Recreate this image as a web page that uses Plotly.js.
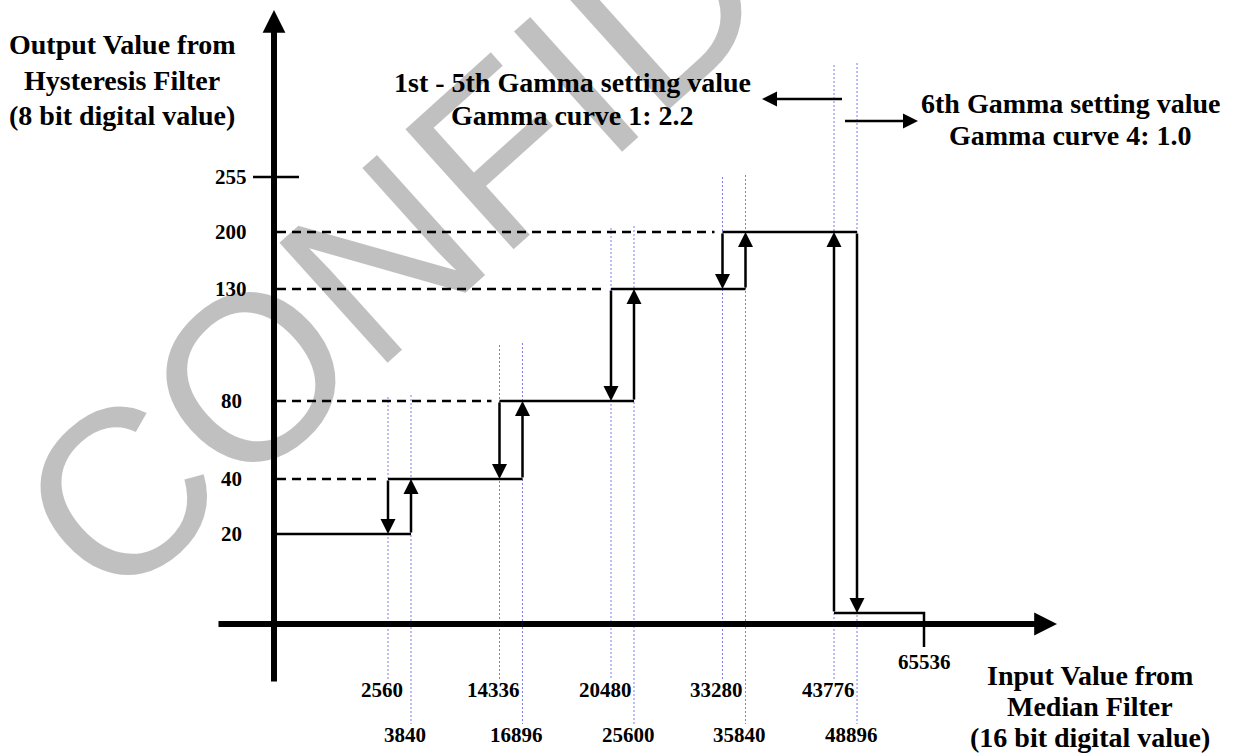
<!DOCTYPE html>
<html>
<head>
<meta charset="utf-8">
<script src="https://cdn.plot.ly/plotly-3.0.1.min.js"></script>
<style>
html,body{margin:0;padding:0;background:#ffffff;}
#chart{width:1235px;height:753px;}
</style>
</head>
<body>
<div id="chart"></div>
<script>
// ---------------- data ----------------
const outputLevels = [0, 20, 40, 80, 130, 200];     // output steps (8 bit)
const outputMax = 255;
const downThresholds = [2560, 14336, 20480, 33280, 43776];  // input thresholds (16 bit)
const upThresholds   = [3840, 16896, 25600, 35840, 48896];
const inputMax = 65536;
const yTitleLines = ['Output Value from', 'Hysteresis Filter', '(8 bit digital value)'];
const xTitleLines = ['Input Value from', 'Median Filter', '(16 bit digital value)'];
const noteLeftLines = ['1st - 5th Gamma setting value', 'Gamma curve 1: 2.2'];
const noteRightLines = ['6th Gamma setting value', 'Gamma curve 4: 1.0'];
const watermarkText = 'CONFIDENTIAL';

// ---------------- schematic layout (diagram is not drawn to scale) ----------------
const W = 1235, H = 753;
const ORIGIN_X = 274, AXIS_Y = 624;
const X_AXIS_START = 217, X_AXIS_TIP = 1057;
const Y_AXIS_TIP = 10, Y_AXIS_BOTTOM = 683;
const PAIR_X0 = 388, PAIR_STEP = 111.5, PAIR_GAP = 23, END_X = 924;
const LEVEL_Y = {0: 613, 20: 534, 40: 479, 80: 401, 130: 289, 200: 232, 255: 177};
const GUIDE_TOP = [397, 345, 228, 177, 65];
const GUIDE_BOTTOM_DOWN = 680, GUIDE_BOTTOM_UP = 724;
const LABEL_ROW1_Y = 690, LABEL_ROW2_Y = 735, LABEL_DX = -6;
const Y_LABEL_X = 231;
const TITLE_SIZE = 28, TICK_SIZE = 21;

const SERIF = 'Liberation Serif, Times New Roman, serif';
const BLACK = '#000000';
const GUIDE_COLOR = '#7c7cf0';

function xOf(v) {
  if (v === inputMax) return END_X;
  let k = downThresholds.indexOf(v);
  if (k >= 0) return PAIR_X0 + k * PAIR_STEP;
  k = upThresholds.indexOf(v);
  return PAIR_X0 + k * PAIR_STEP + PAIR_GAP;
}
function yOf(level) { return LEVEL_Y[level]; }
function nextLevelIndex(j) { return j < outputLevels.length - 1 ? j + 1 : 0; }

const traces = [];

// dotted guide lines at every threshold
(function () {
  const gx = [], gy = [];
  downThresholds.forEach((v, k) => {
    gx.push(xOf(v), xOf(v), null); gy.push(GUIDE_TOP[k], GUIDE_BOTTOM_DOWN, null);
  });
  upThresholds.forEach((v, k) => {
    gx.push(xOf(v), xOf(v), null); gy.push(GUIDE_TOP[k] - 2, GUIDE_BOTTOM_UP, null);
  });
  traces.push({x: gx, y: gy, mode: 'lines', line: {color: GUIDE_COLOR, width: 1, dash: '2px,2px'}, hoverinfo: 'skip'});
})();

// dashed lines from the axis to each level
(function () {
  const dx = [], dy = [];
  for (let j = 2; j < outputLevels.length; j++) {
    const y = yOf(outputLevels[j]);
    dx.push(ORIGIN_X + 3, xOf(downThresholds[j - 2]) - 8, null);
    dy.push(y, y, null);
  }
  traces.push({x: dx, y: dy, mode: 'lines', line: {color: BLACK, width: 2.5, dash: '9px,6px'}, hoverinfo: 'skip'});
})();

// solid horizontal steps
(function () {
  const sx = [], sy = [];
  for (let j = 1; j < outputLevels.length; j++) {
    const y = yOf(outputLevels[j]);
    const x0 = j === 1 ? ORIGIN_X : xOf(downThresholds[j - 2]);
    const x1 = xOf(upThresholds[j - 1]);
    sx.push(x0, x1, null); sy.push(y, y, null);
  }
  // level 0 segment up to the end of the input range, with a tick below the axis
  const last = downThresholds.length - 1;
  sx.push(xOf(downThresholds[last]), xOf(inputMax), xOf(inputMax), null);
  sy.push(yOf(outputLevels[0]), yOf(outputLevels[0]), AXIS_Y + 23, null);
  // 255 tick on the y axis
  sx.push(ORIGIN_X - 21, ORIGIN_X + 25, null);
  sy.push(yOf(outputMax), yOf(outputMax), null);
  traces.push({x: sx, y: sy, mode: 'lines', line: {color: BLACK, width: 2.5}, hoverinfo: 'skip'});
})();

const annotations = [];

// watermark (semi-transparent so black lines stay black); paper coords so it may extend past the top
annotations.push({
  xref: 'paper', yref: 'paper', x: 697 / W, y: 1 + 26 / H, text: watermarkText, showarrow: false,
  textangle: -42, font: {family: 'Liberation Sans, Arial, sans-serif', size: 235, color: 'rgba(0,0,0,0.247)'},
  xanchor: 'center', yanchor: 'middle'
});

function arrow(x0, y0, x1, y1, width, size, head) {
  annotations.push({
    xref: 'x', yref: 'y', axref: 'x', ayref: 'y',
    x: x1, y: y1, ax: x0, ay: y0, text: '', showarrow: true,
    arrowhead: head === undefined ? 2 : head, arrowsize: size, arrowwidth: width, arrowcolor: BLACK,
    standoff: 0
  });
}

// axes
arrow(X_AXIS_START, AXIS_Y, X_AXIS_TIP, AXIS_Y, 6, 0.76);
arrow(ORIGIN_X, Y_AXIS_BOTTOM, ORIGIN_X, Y_AXIS_TIP, 6, 0.76);

// hysteresis arrows
for (let k = 0; k < upThresholds.length; k++) {
  const lo = k + 1, hi = nextLevelIndex(k + 1);
  arrow(xOf(upThresholds[k]), yOf(outputLevels[lo]), xOf(upThresholds[k]), yOf(outputLevels[hi]), 2.5, 1.2);
  arrow(xOf(downThresholds[k]), yOf(outputLevels[hi]), xOf(downThresholds[k]), yOf(outputLevels[lo]), 2.5, 1.2);
}

// gamma-region arrows
const lastK = upThresholds.length - 1;
const midX = (xOf(downThresholds[lastK]) + xOf(upThresholds[lastK])) / 2;
arrow(midX - 2, 99, 762, 99, 2.5, 1.2);
arrow(midX - 2, 121, 918, 121, 2.5, 1.2);

function label(text, x, y, size, anchor) {
  annotations.push({
    xref: 'x', yref: 'y', x: x, y: y, text: '<b>' + text + '</b>', showarrow: false,
    font: {family: SERIF, size: size, color: BLACK}, xanchor: anchor || 'center', yanchor: 'middle'
  });
}

// y tick labels
outputLevels.slice(1).concat([outputMax]).forEach(v => label(String(v), Y_LABEL_X, yOf(v), TICK_SIZE));
// x tick labels (staggered rows)
downThresholds.forEach(v => label(String(v), xOf(v) + LABEL_DX, LABEL_ROW1_Y, TICK_SIZE));
upThresholds.forEach(v => label(String(v), xOf(v) + LABEL_DX, LABEL_ROW2_Y, TICK_SIZE));
label(String(inputMax), xOf(inputMax), 662, TICK_SIZE);

// titles and notes
const yTitleY = [44, 80, 115];
yTitleLines.forEach((t, i) => label(t, 122, yTitleY[i], TITLE_SIZE));
const xTitleY = [675, 706, 737];
xTitleLines.forEach((t, i) => label(t, 1090, xTitleY[i], TITLE_SIZE));
const noteLeftY = [82, 115];
noteLeftLines.forEach((t, i) => label(t, 572, noteLeftY[i], TITLE_SIZE));
const noteRightY = [103, 135];
noteRightLines.forEach((t, i) => label(t, 1070, noteRightY[i], TITLE_SIZE));

const layout = {
  width: W, height: H,
  margin: {l: 0, r: 0, t: 0, b: 0, pad: 0},
  paper_bgcolor: '#ffffff', plot_bgcolor: '#ffffff',
  showlegend: false, hovermode: false,
  xaxis: {range: [0, W], visible: false, fixedrange: true},
  yaxis: {range: [H, 0], visible: false, fixedrange: true},
  annotations: annotations
};

Plotly.newPlot('chart', traces, layout, {displayModeBar: false, staticPlot: true});
</script>
</body>
</html>
